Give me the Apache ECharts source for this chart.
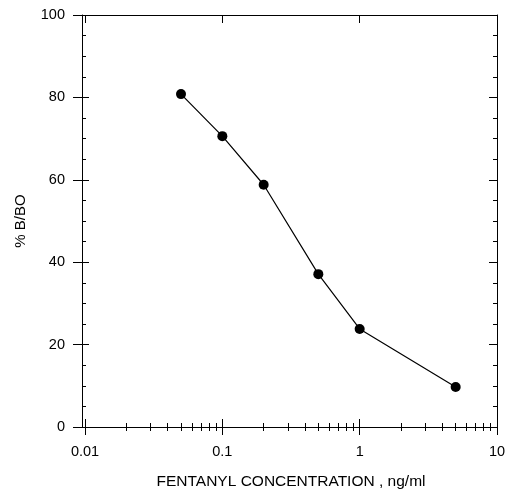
<!DOCTYPE html>
<html><head><meta charset="utf-8">
<script src="https://cdn.jsdelivr.net/npm/echarts@6/dist/echarts.min.js"></script>
<style>html,body{margin:0;padding:0;background:#fff}#c{width:507px;height:491px}</style>
</head><body><div id="c"></div>
<script>
const concentration = [0.05, 0.1, 0.2, 0.5, 1, 5];
const percentBBO = [80.8, 70.6, 58.8, 37.1, 23.8, 9.7];
const xMajorTicks = [0.01, 0.1, 1, 10];
const xMinorTicks = [0.02,0.03,0.04,0.05,0.06,0.07,0.08,0.09,0.2,0.3,0.4,0.5,0.6,0.7,0.8,0.9,2,3,4,5,6,7,8,9];
const xLabels = ['0.01', '0.1', '1', '10'];

const FONT = 'Liberation Sans, Arial, sans-serif';
const black = '#000';
const lineStyle = {color: black, width: 1};
function logAxis(extra) {
  return Object.assign({
    type: 'log', logBase: 10, min: 0.01, max: 10,
    axisLine: {show: false, lineStyle},
    axisTick: {show: false, lineStyle},
    axisLabel: {show: false},
    splitLine: {show: false},
    minorTick: {show: false},
    minorSplitLine: {show: false}
  }, extra);
}
function valAxis(extra) {
  return Object.assign({
    type: 'value', min: 0, max: 100, interval: 20,
    axisLine: {show: false, lineStyle},
    axisTick: {show: false, lineStyle},
    axisLabel: {show: false},
    splitLine: {show: false},
    minorTick: {show: false},
    minorSplitLine: {show: false}
  }, extra);
}
const chart = echarts.init(document.getElementById('c'), null, {renderer: 'canvas'});
chart.setOption({
  animation: false,
  backgroundColor: '#fff',
  grid: {left: 85, right: 10, top: 15, bottom: 64, containLabel: false, outerBoundsMode: 'none'},
  xAxis: [
    logAxis({position: 'bottom',
      name: 'FENTANYL CONCENTRATION , ng/ml', nameLocation: 'middle', nameGap: 47,
      nameTextStyle: {fontFamily: FONT, fontSize: 15.5, color: black},
      axisLine: {show: true, onZero: false, lineStyle},
      axisTick: {show: true, inside: true, length: 8, lineStyle, customValues: xMajorTicks},
      axisLabel: {show: true, margin: 17, fontFamily: FONT, fontSize: 14.5, color: black,
        customValues: xMajorTicks,
        formatter: v => { const i = xMajorTicks.findIndex(t => Math.abs(Math.log10(t) - Math.log10(v)) < 1e-6); return i >= 0 ? xLabels[i] : ''; }}
    }),
    logAxis({position: 'bottom',
      axisTick: {show: true, inside: false, length: 8, lineStyle, customValues: xMajorTicks}}),
    logAxis({position: 'bottom',
      axisTick: {show: true, inside: true, length: 4, lineStyle, customValues: xMinorTicks}}),
    logAxis({position: 'top',
      axisLine: {show: true, onZero: false, lineStyle},
      axisTick: {show: true, inside: true, length: 8, lineStyle, customValues: xMajorTicks}}),
    logAxis({position: 'top',
      axisTick: {show: true, inside: true, length: 4, lineStyle, customValues: xMinorTicks}})
  ],
  yAxis: [
    valAxis({position: 'left', offset: 3,
      name: '% B/BO', nameLocation: 'middle', nameGap: 54, nameRotate: 90,
      nameTextStyle: {fontFamily: FONT, fontSize: 15, color: black},
      axisLine: {show: true, onZero: false, lineStyle},
      axisTick: {show: true, inside: true, length: 7, lineStyle},
      minorTick: {show: true, splitNumber: 4, length: 4, lineStyle},
      axisLabel: {show: true, margin: 17, fontFamily: FONT, fontSize: 14.5, color: black}
    }),
    valAxis({position: 'left', offset: 3,
      axisTick: {show: true, inside: false, length: 9, lineStyle}}),
    valAxis({position: 'right',
      axisLine: {show: true, onZero: false, lineStyle},
      axisTick: {show: true, inside: true, length: 8, lineStyle},
      minorTick: {show: true, splitNumber: 4, length: 4, lineStyle}})
  ],
  series: [{
    type: 'line',
    xAxisIndex: 0, yAxisIndex: 0,
    data: concentration.map((c, i) => [c, percentBBO[i]]),
    symbol: 'circle', symbolSize: 10,
    lineStyle: {color: black, width: 1.2},
    itemStyle: {color: black},
    silent: true
  }]
});
</script></body></html>
